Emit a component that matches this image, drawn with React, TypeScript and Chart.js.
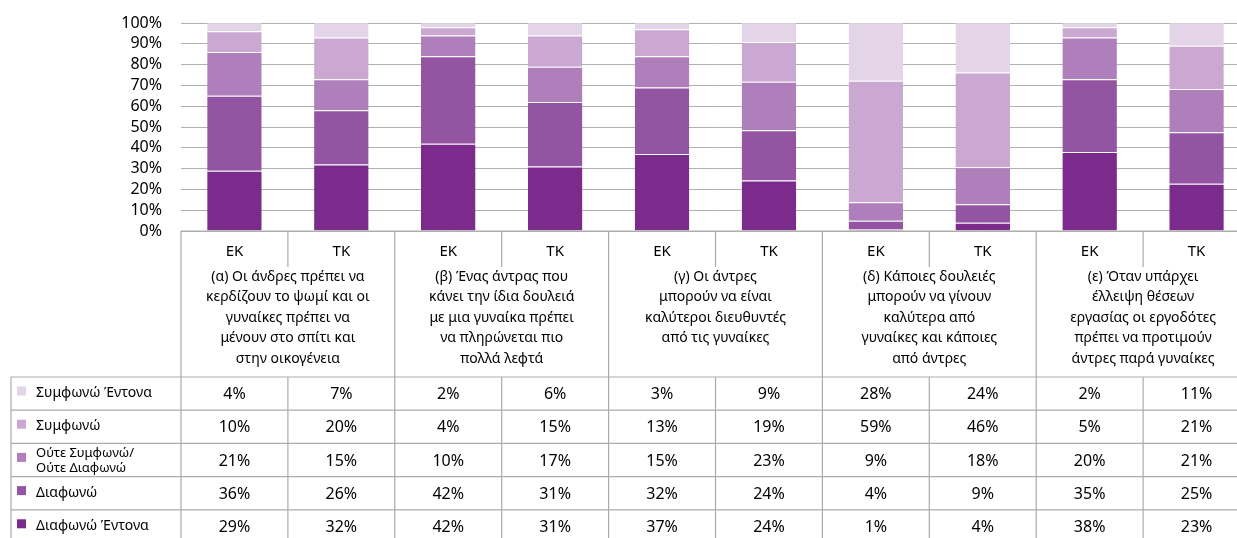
import React, { useEffect, useRef } from "react";
import { Chart, registerables } from "chart.js";

Chart.register(...registerables);

const subCategories = ["ΕΚ", "ΤΚ", "ΕΚ", "ΤΚ", "ΕΚ", "ΤΚ", "ΕΚ", "ΤΚ", "ΕΚ", "ΤΚ"];

const groupLabels: string[][] = [
  ["(α) Οι άνδρες πρέπει να", "κερδίζουν το ψωμί και οι", "γυναίκες πρέπει να", "μένουν στο σπίτι και", "στην οικογένεια"],
  ["(β) Ένας άντρας που", "κάνει την ίδια δουλειά", "με μια γυναίκα πρέπει", "να πληρώνεται πιο", "πολλά λεφτά"],
  ["(γ) Οι άντρες", "μπορούν να είναι", "καλύτεροι διευθυντές", "από τις γυναίκες"],
  ["(δ) Κάποιες δουλειές", "μπορούν να γίνουν", "καλύτερα από", "γυναίκες και κάποιες", "από άντρες"],
  ["(ε) Όταν υπάρχει", "έλλειψη θέσεων", "εργασίας οι εργοδότες", "πρέπει να προτιμούν", "άντρες παρά γυναίκες"],
];

const yTicks = [0, 10, 20, 30, 40, 50, 60, 70, 80, 90, 100];

// Table rows, top to bottom
const seriesNames: string[][] = [
  ["Συμφωνώ Έντονα"],
  ["Συμφωνώ"],
  ["Ούτε Συμφωνώ/", "Ούτε Διαφωνώ"],
  ["Διαφωνώ"],
  ["Διαφωνώ Έντονα"],
];
const stronglyAgree = [4, 7, 2, 6, 3, 9, 28, 24, 2, 11];
const agree = [10, 20, 4, 15, 13, 19, 59, 46, 5, 21];
const neither = [21, 15, 10, 17, 15, 23, 9, 18, 20, 21];
const disagree = [36, 26, 42, 31, 32, 24, 4, 9, 35, 25];
const stronglyDisagree = [29, 32, 42, 31, 37, 24, 1, 4, 38, 23];

const seriesValues = [stronglyAgree, agree, neither, disagree, stronglyDisagree];
const seriesColors = ["#E4D4E8", "#CAA8D2", "#AE7FBB", "#9354A1", "#7B2B8B"];

const FONT = "'Noto Sans', sans-serif";
const LINE = "#ababab";

const totals = subCategories.map((_, i) => seriesValues.reduce((s, arr) => s + arr[i], 0));

const tablePlugin = {
  id: "dataTable",
  afterDraw(chart: any) {
    const ctx: CanvasRenderingContext2D = chart.ctx;
    const area = chart.chartArea;
    const xs = chart.scales.x;
    const n = subCategories.length;
    const colW = area.width / n;
    const top = area.bottom;
    const subRowBottom = top + 36;
    const catRowBottom = top + 146;
    const rowH = 33.2;
    const tableLeft = 11;
    const right = area.right;
    const bottom = catRowBottom + rowH * 5;
    const colLeft = (i: number) => xs.getPixelForValue(i) - colW / 2;

    ctx.save();
    ctx.strokeStyle = LINE;
    ctx.lineWidth = 1.2;
    const line = (x1: number, y1: number, x2: number, y2: number) => {
      ctx.beginPath();
      ctx.moveTo(x1, y1);
      ctx.lineTo(x2, y2);
      ctx.stroke();
    };
    line(area.left, top, right, top);
    for (let i = 0; i <= n; i += 2) {
      const x = i === n ? right : colLeft(i);
      line(x, top, x, bottom);
    }
    for (let i = 1; i < n; i += 2) {
      const x = colLeft(i);
      line(x, top, x, subRowBottom);
      line(x, catRowBottom, x, bottom);
    }
    for (let r = 0; r <= 5; r++) {
      const y = catRowBottom + rowH * r;
      line(tableLeft, y, right, y);
    }
    line(tableLeft, catRowBottom, tableLeft, bottom);

    ctx.fillStyle = "#000";
    ctx.textAlign = "center";
    ctx.textBaseline = "middle";
    ctx.font = `15px ${FONT}`;
    for (let i = 0; i < n; i++) {
      ctx.fillText(subCategories[i], xs.getPixelForValue(i), top + 21);
    }
    ctx.font = `14px ${FONT}`;
    for (let g = 0; g < groupLabels.length; g++) {
      const cx = colLeft(g * 2) + colW;
      groupLabels[g].forEach((t, k) => ctx.fillText(t, cx, top + 46 + k * 20.5));
    }
    ctx.font = `16px ${FONT}`;
    for (let r = 0; r < 5; r++) {
      const yc = catRowBottom + rowH * r + rowH / 2 + 1;
      for (let i = 0; i < n; i++) {
        ctx.fillText(`${seriesValues[r][i]}%`, xs.getPixelForValue(i), yc);
      }
    }
    ctx.textAlign = "left";
    for (let r = 0; r < 5; r++) {
      const rt = catRowBottom + rowH * r;
      ctx.fillStyle = seriesColors[r];
      ctx.fillRect(17, rt + 9.5, 9, 9);
      ctx.fillStyle = "#000";
      const names = seriesNames[r];
      if (names.length === 1) {
        ctx.font = `14px ${FONT}`;
        ctx.fillText(names[0], 36, rt + 16);
      } else {
        ctx.font = `13px ${FONT}`;
        ctx.fillText(names[0], 36, rt + 10);
        ctx.fillText(names[1], 36, rt + 25);
      }
    }
    ctx.restore();
  },
};

export default function App() {
  const ref = useRef<HTMLCanvasElement | null>(null);
  useEffect(() => {
    if (!ref.current) return;
    const datasets = [...seriesValues]
      .map((vals, r) => ({
        label: seriesNames[r].join(" "),
        data: vals.map((v, i) => (v / totals[i]) * 100),
        backgroundColor: seriesColors[r],
        borderColor: "rgba(255,255,255,0.45)",
        borderWidth: { top: 1, left: 0, right: 0, bottom: 0 },
        borderSkipped: false as any,
        barPercentage: 0.51,
        categoryPercentage: 1,
      }))
      .reverse();
    const chart = new Chart(ref.current, {
      type: "bar",
      data: { labels: subCategories, datasets },
      options: {
        animation: false,
        responsive: false,
        maintainAspectRatio: false,
        layout: { padding: { top: 23, bottom: 314, left: 0, right: 1 } },
        plugins: { legend: { display: false }, tooltip: { enabled: false } },
        scales: {
          x: { stacked: true, display: false },
          y: {
            stacked: true,
            min: 0,
            max: 100,
            afterFit: (s: any) => {
              s.width = 181;
              s.paddingTop = 0;
              s.paddingBottom = 0;
            },
            afterBuildTicks: (s: any) => {
              s.ticks = yTicks.map((v) => ({ value: v }));
            },
            border: { display: false },
            grid: { color: "#b0b0b0", lineWidth: 1, drawTicks: false },
            ticks: {
              autoSkip: false,
              stepSize: 10,
              padding: 19,
              color: "#000",
              font: { family: "'Noto Sans', sans-serif", size: 16 },
              callback: (v: any) => `${v}%`,
            },
          },
        },
      },
      plugins: [tablePlugin],
    });
    return () => chart.destroy();
  }, []);
  return (
    <div
      style={{
        position: "fixed",
        left: 0,
        top: 0,
        width: 1237,
        height: 538,
        overflow: "hidden",
        background: "#fff",
      }}
    >
      <canvas ref={ref} width={1251} height={545} style={{ width: 1251, height: 545, display: "block" }} />
    </div>
  );
}
